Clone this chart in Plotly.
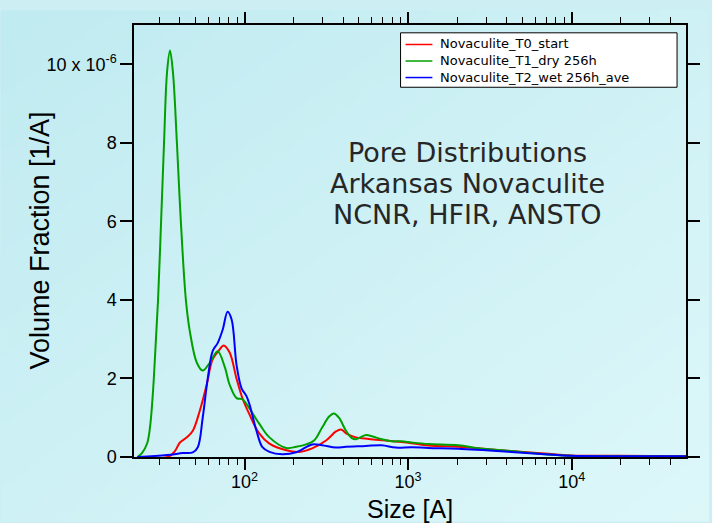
import base64, struct, zlib
import numpy as np
import plotly.graph_objects as go

# ---- data (volume fraction in units of 1e-6 1/A) ----
t0_size = [22.1, 34.0, 37.5, 40.3, 44.4, 48.3, 53.2, 58.7, 63.9, 70.5, 74.5, 81.1, 89.4, 97.2, 107, 123,
           142, 180, 216, 259, 315, 362, 389, 423, 480, 575, 730, 913, 1050, 1330, 2030, 2680, 4260, 6850,
           9860, 19000, 50000]
t0_vf = [0, 0, 0.15, 0.37, 0.5, 0.67, 1.17, 1.84, 2.49, 2.74, 2.84, 2.66, 1.99, 1.49, 1.09, 0.6,
         0.34, 0.17, 0.13, 0.22, 0.42, 0.65, 0.70, 0.59, 0.50, 0.46, 0.42, 0.38, 0.35, 0.29, 0.26, 0.22,
         0.15, 0.09, 0.04, 0.03, 0.02]

t1_size = [22.1, 23.6, 25.4, 26.5, 27.6, 28.4, 29.6, 30.9, 32.2, 33.6, 35.0, 36.5, 38.6, 40.8, 43.8, 46.3,
           51.1, 55.5, 61.3, 68.5, 75.6, 81.1, 89.4, 97.2, 107, 123, 142, 180, 207, 238, 266, 298, 329, 352,
           378, 417, 453, 480, 552, 600, 690, 794, 913, 1050, 1330, 2030, 2680, 4260, 6850, 9860, 19000, 50000]
t1_vf = [0.0, 0.1, 0.35, 0.8, 1.7, 2.6, 4.0, 6.0, 8.0, 9.8, 10.35, 9.8, 8.0, 6.0, 4.0, 3.2, 2.4, 2.2, 2.4,
         2.69, 2.3, 1.84, 1.5, 1.47, 1.24, 0.85, 0.50, 0.23, 0.26, 0.32, 0.42, 0.75, 1.03, 1.11, 1.0, 0.67,
         0.48, 0.45, 0.56, 0.53, 0.45, 0.40, 0.40, 0.37, 0.33, 0.30, 0.22, 0.15, 0.07, 0.03, 0.02, 0.01]

t2_size = [22.1, 33.6, 42.0, 48.3, 51.8, 55.5, 59.6, 63.9, 68.5, 73.5, 78.8, 83.4, 89.4, 95.9, 102.8, 107.2,
           118.3, 128.6, 142, 170, 207, 259, 298, 362, 417, 552, 690, 840, 1050, 1330, 2030, 4260, 6850,
           9860, 19000, 50000]
t2_vf = [0, 0.05, 0.1, 0.12, 0.25, 1.0, 2.0, 2.7, 2.9, 3.24, 3.7, 3.5, 2.34, 1.75, 1.55, 1.34, 0.67, 0.25,
         0.13, 0.07, 0.12, 0.32, 0.30, 0.24, 0.26, 0.28, 0.30, 0.24, 0.25, 0.23, 0.21, 0.13, 0.07, 0.03,
         0.02, 0.02]

series_names = ["Novaculite_T0_start", "Novaculite_T1_dry 256h", "Novaculite_T2_wet 256h_ave"]
series_colors = ["#ff0000", "#00a000", "#0000ff"]

x_tickvals = [100, 1000, 10000]
x_ticktext = ["10<sup>2</sup>", "10<sup>3</sup>", "10<sup>4</sup>"]
y_tickvals = [0, 2, 4, 6, 8, 10]
y_ticktext = ["0", "2", "4", "6", "8", "10 x 10<sup>-6</sup>"]
scale = 1e-6
title_lines = ["Pore Distributions", "Arkansas Novaculite", "NCNR, HFIR, ANSTO"]
x_title = "Size [A]"
y_title = "Volume Fraction [1/A]"

# plot-area geometry in pixels
W_FIG, H_FIG = 712, 523
L, R, T, B = 134, 23, 15, 66
PW, PH = W_FIG - L - R, H_FIG - T - B


def px_x(p):  # pixel x -> paper
    return (p - L) / PW


def px_y(p):  # pixel y -> paper
    return (H_FIG - B - p) / PH


# ---- gradient background image ----
def png_uri(rgb):
    h, w, _ = rgb.shape
    raw = b"".join(b"\x00" + rgb[i].astype(np.uint8).tobytes() for i in range(h))

    def chunk(tag, data):
        c = tag + data
        return struct.pack(">I", len(data)) + c + struct.pack(">I", zlib.crc32(c) & 0xffffffff)
    png = b"\x89PNG\r\n\x1a\n" + chunk(b"IHDR", struct.pack(">IIBBBBB", w, h, 8, 2, 0, 0, 0)) \
        + chunk(b"IDAT", zlib.compress(raw, 9)) + chunk(b"IEND", b"")
    return "data:image/png;base64," + base64.b64encode(png).decode()


GW, GH = 178, 131
yy, xx = np.mgrid[0:GH, 0:GW]
tt = (xx / GW * 0.5 + yy / GH * 0.5)[..., None]
c0 = np.array([192, 235, 241.0])
c1 = np.array([222, 248, 250.0])
grad = c0 * (1 - tt) + c1 * tt

fig = go.Figure()
for xs, ys, nm, col in [(t0_size, t0_vf, series_names[0], series_colors[0]),
                        (t1_size, t1_vf, series_names[1], series_colors[1]),
                        (t2_size, t2_vf, series_names[2], series_colors[2])]:
    fig.add_trace(go.Scatter(x=xs, y=[v * scale for v in ys], mode="lines", name=nm, showlegend=False,
                             line=dict(color=col, width=2, shape="spline", smoothing=1.0)))

minor_vals = [m * 10 ** d for d in range(1, 5) for m in range(2, 10) if 21 < m * 10 ** d < 50000]

# manual legend (tight rows like the reference): one text block, three sample lines
LEG_FONT = 13
row_h = LEG_FONT * 1.3
leg_top, leg_left, leg_right = 23, 402, 680
leg_bottom = leg_top + 3 * row_h + 5
shapes = [dict(type="rect", xref="paper", yref="paper", x0=px_x(leg_left), x1=px_x(leg_right),
               y0=px_y(leg_bottom), y1=px_y(leg_top),
               fillcolor="#ffffff", line=dict(color="#000000", width=1), layer="above")]
annotations = []
for i, col in enumerate(series_colors):
    ry = leg_top + 2.5 + row_h * (i + 0.5) + 1
    shapes.append(dict(type="line", xref="paper", yref="paper", x0=px_x(407), x1=px_x(434),
                       y0=px_y(ry), y1=px_y(ry), line=dict(color=col, width=1.5), layer="above"))
annotations.append(dict(text="<br>".join(series_names), xref="paper", yref="paper",
                        x=px_x(440), y=px_y((leg_top + leg_bottom) / 2 + 0.5),
                        xanchor="left", yanchor="middle", align="left", showarrow=False,
                        font=dict(family="DejaVu Sans", size=LEG_FONT, color="#000000")))

for line_txt, cy in zip(title_lines, [145, 177, 209]):
    annotations.append(dict(text=line_txt, xref="paper", yref="paper", x=px_x(469), y=px_y(cy),
                            xanchor="center", yanchor="middle", showarrow=False,
                            font=dict(family="DejaVu Sans", size=27, color="#262626")))

annotations.append(dict(text=y_title, xref="paper", yref="paper", x=px_x(39), y=px_y(236),
                        xanchor="center", yanchor="middle", showarrow=False, textangle=-90,
                        font=dict(size=27, color="#000000")))
annotations.append(dict(text=x_title, xref="paper", yref="paper", x=px_x(412), y=px_y(510),
                        xanchor="center", yanchor="middle", showarrow=False,
                        font=dict(size=25, color="#000000")))

fig.update_layout(
    width=W_FIG, height=H_FIG,
    margin=dict(l=L, r=R, t=T, b=B),
    paper_bgcolor="#cdeff4", plot_bgcolor="rgba(0,0,0,0)",
    font=dict(family="Liberation Sans, Arial, sans-serif", color="#000000", size=18),
    images=[dict(source=png_uri(grad), xref="paper", yref="paper", x=-L / PW, y=1 + T / PH,
                 sizex=W_FIG / PW, sizey=H_FIG / PH, sizing="stretch", layer="below",
                 xanchor="left", yanchor="top")],
    showlegend=False,
    shapes=shapes,
    annotations=annotations,
)

fig.update_xaxes(type="log", range=[np.log10(21.1), np.log10(50000)],
                 tickvals=x_tickvals, ticktext=x_ticktext, ticks="outside", ticklen=11, tickwidth=1.5,
                 tickcolor="#000", showline=True, linecolor="#000", linewidth=1.5, mirror="ticks",
                 showgrid=False, zeroline=False, tickfont=dict(size=18), ticklabelstandoff=-3,
                 minor=dict(tickvals=minor_vals, ticks="outside", ticklen=6, tickwidth=1, tickcolor="#000",
                            showgrid=False))
fig.update_yaxes(range=[0, 11.0e-6], tickvals=[v * scale for v in y_tickvals], ticktext=y_ticktext,
                 ticks="outside", ticklen=12, tickwidth=1.5, tickcolor="#000", showline=True,
                 linecolor="#000", linewidth=1.5, mirror="ticks", showgrid=False, zeroline=False,
                 tickfont=dict(size=18))

fig.write_html("out.html")
